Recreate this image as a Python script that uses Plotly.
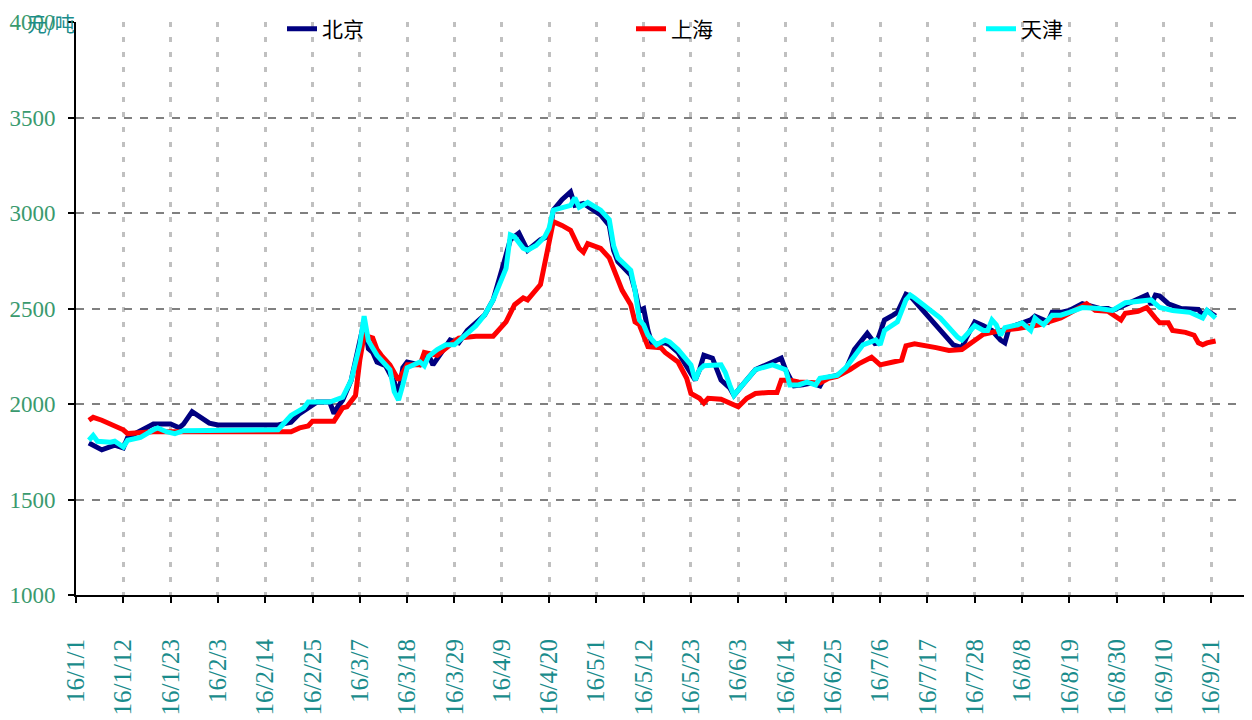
import pandas as pd
import plotly.graph_objects as go

# ---- data (day offsets from 2016-01-01, price in 元/吨) ----
beijing_day = [3, 6, 9, 11, 12, 15, 18, 22, 24, 25, 27, 31, 33, 47, 50, 52, 54, 56, 59, 60, 61, 62, 64, 66, 67, 68, 69, 70, 72, 74, 75, 76, 77, 80, 82, 83, 86, 87, 89, 91, 95, 97, 99, 101, 103, 105, 108, 110, 111, 113, 115, 116, 118, 122, 124, 125, 126, 129, 130, 131, 132, 133, 134, 137, 138, 140, 143, 144, 145, 146, 148, 150, 152, 153, 155, 158, 162, 164, 165, 167, 169, 171, 173, 174, 177, 179, 181, 183, 184, 186, 188, 190, 191, 193, 194, 204, 206, 207, 209, 211, 213, 215, 216, 217, 219, 222, 223, 224, 226, 227, 229, 231, 234, 238, 240, 241, 244, 247, 249, 250, 251, 252, 254, 257, 261, 262, 263, 265]
beijing_val = [1796, 1760, 1785, 1770, 1825, 1860, 1895, 1895, 1875, 1895, 1960, 1900, 1890, 1890, 1905, 1950, 1980, 2010, 2010, 1950, 1990, 2020, 2125, 2310, 2430, 2290, 2270, 2220, 2200, 2115, 2045, 2190, 2220, 2205, 2255, 2205, 2310, 2335, 2320, 2385, 2465, 2545, 2700, 2860, 2895, 2805, 2860, 2880, 3015, 3070, 3110, 3040, 3050, 2990, 2935, 2805, 2745, 2675, 2595, 2490, 2500, 2385, 2310, 2320, 2310, 2270, 2160, 2125, 2180, 2255, 2240, 2125, 2085, 2045, 2100, 2180, 2220, 2240, 2180, 2095, 2100, 2110, 2095, 2135, 2150, 2180, 2285, 2345, 2370, 2310, 2440, 2465, 2480, 2575, 2565, 2310, 2295, 2345, 2430, 2410, 2385, 2335, 2320, 2400, 2415, 2440, 2460, 2450, 2430, 2480, 2480, 2490, 2525, 2500, 2500, 2490, 2520, 2550, 2570, 2520, 2570, 2565, 2525, 2500, 2495, 2465, 2490, 2460]

shanghai_day = [3, 4, 6, 11, 12, 15, 18, 50, 52, 54, 55, 60, 61, 62, 63, 65, 66, 67, 69, 70, 71, 73, 75, 77, 80, 81, 83, 84, 87, 89, 93, 97, 100, 102, 104, 105, 108, 109, 110, 111, 113, 115, 117, 118, 119, 122, 124, 126, 127, 129, 130, 131, 132, 133, 136, 137, 140, 142, 143, 145, 146, 147, 150, 153, 154, 156, 158, 161, 163, 164, 166, 168, 173, 175, 177, 180, 182, 185, 187, 190, 192, 193, 195, 200, 203, 206, 207, 209, 211, 215, 219, 224, 226, 229, 231, 233, 235, 237, 240, 243, 244, 247, 249, 251, 252, 254, 255, 258, 260, 261, 262, 263, 265]
shanghai_val = [1915, 1930, 1915, 1865, 1845, 1850, 1855, 1855, 1875, 1885, 1910, 1910, 1950, 1980, 1985, 2045, 2230, 2360, 2345, 2285, 2255, 2205, 2125, 2205, 2205, 2270, 2260, 2255, 2310, 2345, 2355, 2355, 2430, 2520, 2555, 2545, 2625, 2730, 2860, 2955, 2935, 2910, 2815, 2795, 2840, 2815, 2765, 2660, 2595, 2520, 2430, 2415, 2350, 2300, 2295, 2270, 2220, 2135, 2055, 2030, 2005, 2030, 2025, 1995, 1985, 2030, 2055, 2060, 2060, 2125, 2125, 2115, 2110, 2135, 2145, 2180, 2210, 2245, 2205, 2220, 2230, 2305, 2315, 2295, 2280, 2285, 2300, 2335, 2365, 2385, 2395, 2415, 2430, 2450, 2475, 2500, 2525, 2490, 2485, 2440, 2475, 2485, 2505, 2450, 2425, 2425, 2385, 2375, 2360, 2320, 2310, 2320, 2330]

tianjin_day = [3, 4, 5, 8, 9, 11, 12, 15, 18, 19, 21, 23, 25, 31, 32, 47, 48, 50, 53, 54, 59, 62, 64, 66, 67, 68, 70, 73, 74, 75, 76, 77, 80, 81, 82, 84, 86, 88, 90, 93, 95, 97, 100, 101, 102, 104, 105, 107, 109, 110, 111, 113, 115, 116, 117, 119, 122, 124, 125, 126, 129, 130, 131, 132, 133, 135, 137, 138, 140, 143, 144, 145, 146, 150, 151, 152, 153, 155, 158, 162, 165, 166, 168, 170, 172, 173, 177, 179, 181, 183, 186, 187, 188, 191, 193, 194, 195, 201, 205, 206, 208, 209, 211, 212, 213, 214, 215, 216, 219, 220, 222, 223, 224, 225, 227, 229, 231, 234, 238, 241, 244, 247, 250, 252, 255, 259, 262, 263, 265]
tianjin_val = [1810, 1835, 1805, 1800, 1805, 1775, 1810, 1825, 1865, 1875, 1855, 1845, 1860, 1860, 1865, 1865, 1890, 1940, 1980, 2010, 2010, 2035, 2125, 2310, 2460, 2330, 2255, 2180, 2065, 2020, 2100, 2190, 2220, 2200, 2250, 2285, 2310, 2310, 2350, 2410, 2465, 2545, 2710, 2885, 2875, 2815, 2805, 2830, 2875, 2920, 3015, 3030, 3040, 3080, 3030, 3055, 3015, 2965, 2830, 2765, 2700, 2595, 2440, 2415, 2360, 2310, 2335, 2325, 2285, 2205, 2125, 2180, 2200, 2205, 2165, 2100, 2045, 2100, 2180, 2205, 2180, 2100, 2100, 2115, 2100, 2135, 2150, 2190, 2255, 2310, 2335, 2310, 2385, 2430, 2545, 2570, 2555, 2450, 2350, 2335, 2385, 2410, 2385, 2385, 2440, 2415, 2360, 2400, 2415, 2425, 2385, 2450, 2430, 2415, 2465, 2465, 2480, 2505, 2500, 2490, 2530, 2540, 2545, 2505, 2490, 2480, 2450, 2490, 2450]

tick_days = [0, 11, 22, 33, 44, 55, 66, 77, 88, 99, 110, 121, 132, 143, 154, 165, 176, 187, 198, 209, 220, 231, 242, 253, 264]
y_ticks = [1000, 1500, 2000, 2500, 3000, 3500, 4000]

series_names = ["北京", "上海", "天津"]
series_colors = ["#000080", "#FF0000", "#00FFFF"]

base = pd.Timestamp("2016-01-01")


def to_dates(days):
    return [base + pd.Timedelta(days=d) for d in days]


tick_dates = to_dates(tick_days)
tick_text = [f"{d.year % 100}/{d.month}/{d.day}" for d in tick_dates]

# page has an 8px body margin; figure coordinates below are page coordinates minus 8
OFF = 8
PLOT_L, PLOT_W, PLOT_T, PLOT_H = 76 - OFF, 1174, 22 - OFF, 573
FIG_W, FIG_H = 1252, 720

fig = go.Figure()
legend_ids = ["legend", "legend2", "legend3"]
for name, color, dd, vv, lg in zip(series_names, series_colors,
                                   [beijing_day, shanghai_day, tianjin_day],
                                   [beijing_val, shanghai_val, tianjin_val], legend_ids):
    fig.add_trace(go.Scatter(x=to_dates(dd), y=vv, mode="lines", name=name,
                             line=dict(color=color, width=5), legend=lg))

serif = "Liberation Serif, DejaVu Serif, serif"
legend_font = dict(family="Noto Sans CJK SC", size=21, color="black")
legend_text_px = [323, 672, 1022]


def legend_cfg(text_px):
    return dict(x=(text_px - OFF - 41 - PLOT_L) / PLOT_W, xanchor="left",
                y=1 - 7 / PLOT_H, yanchor="middle",
                bgcolor="rgba(0,0,0,0)", font=legend_font, orientation="h")


fig.update_layout(
    width=FIG_W, height=FIG_H,
    margin=dict(l=PLOT_L, r=FIG_W - PLOT_L - PLOT_W, t=PLOT_T, b=FIG_H - PLOT_T - PLOT_H,
                autoexpand=False),
    plot_bgcolor="white", paper_bgcolor="white",
    showlegend=True,
    legend=legend_cfg(legend_text_px[0]),
    legend2=legend_cfg(legend_text_px[1]),
    legend3=legend_cfg(legend_text_px[2]),
    xaxis=dict(
        range=[base, base + pd.Timedelta(days=273)],
        tickvals=tick_dates, ticktext=tick_text, tickangle=-90,
        tickfont=dict(family=serif, size=25, color="#1a8c8c"),
        showline=True, linecolor="black", linewidth=2,
        ticks="outside", ticklen=6, tickwidth=2, tickcolor="black",
        showgrid=True, gridcolor="#c0c0c0", gridwidth=3, griddash="5px,10px",
        ticklabelstandoff=26, zeroline=False, automargin=False,
    ),
    yaxis=dict(
        range=[1000, 4000], tickvals=y_ticks,
        tickfont=dict(family=serif, size=23, color="#3a9a6e"),
        showline=True, linecolor="black", linewidth=2,
        ticks="outside", ticklen=6, tickwidth=2, tickcolor="black",
        showgrid=True, gridcolor="#808080", gridwidth=2, griddash="8px,8px",
        ticklabelstandoff=8, zeroline=False, automargin=False,
    ),
    annotations=[dict(text="元/吨", xref="paper", yref="paper",
                      x=(25 - OFF - PLOT_L) / PLOT_W, y=1 - 2 / PLOT_H, xanchor="left", yanchor="middle",
                      showarrow=False, font=dict(family="Noto Sans CJK SC", size=20, color="#1a8c8c"))],
    shapes=[dict(type="rect", xref="paper", yref="paper", layer="below",
                 x0=(145 - OFF - PLOT_L) / PLOT_W, x1=(1165 - OFF - PLOT_L) / PLOT_W,
                 y0=1 - 44 / PLOT_H, y1=1.02,
                 fillcolor="white", line=dict(width=0))],
)

fig.write_html("out.html")
